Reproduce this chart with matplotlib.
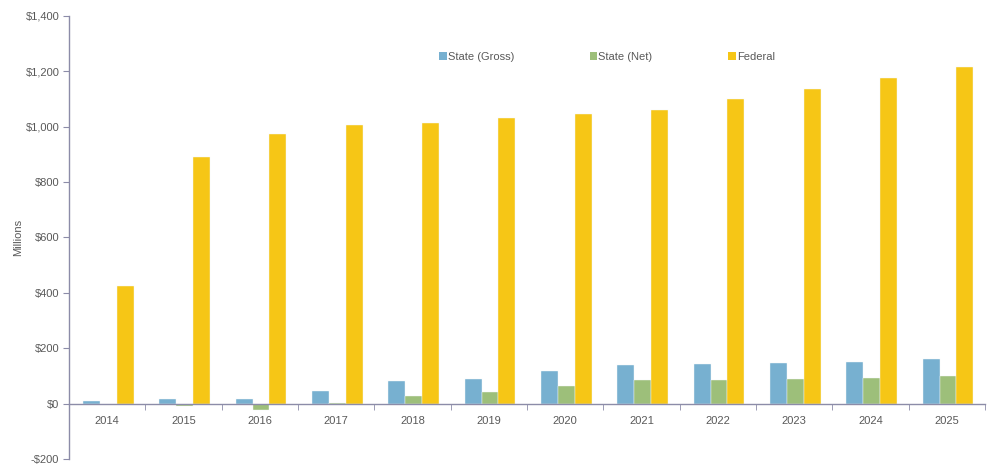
import matplotlib
matplotlib.use("Agg")
import matplotlib.pyplot as plt
import numpy as np
from matplotlib.ticker import FuncFormatter, FixedLocator
from matplotlib.patches import Patch

plt.rcParams['font.family'] = ['Liberation Sans', 'DejaVu Sans']

years = ["2014", "2015", "2016", "2017", "2018", "2019", "2020", "2021", "2022", "2023", "2024", "2025"]
state_gross = [10, 18, 18, 47, 80, 90, 119, 141, 144, 148, 152, 160]
state_net = [0, -7, -22, 3, 29, 43, 63, 85, 85, 88, 93, 98]
federal = [426, 892, 975, 1007, 1014, 1032, 1047, 1061, 1101, 1137, 1177, 1217]
series_names = ["State (Gross)", "State (Net)", "Federal"]
colors = ["#77B0D0", "#9DBF7A", "#F6C616"]

fig = plt.figure(figsize=(9.9, 4.65), dpi=100)
ax = fig.add_axes([0.0697, 0.0129, 0.9253, 0.9527])

x = np.arange(len(years))
w = 0.22
for i, (vals, c) in enumerate(zip([state_gross, state_net, federal], colors)):
    ax.bar(x + (i - 1) * w + 0.015, vals, width=w, color=c, edgecolor='#F4F8FA', linewidth=0.3)

axis_col = "#8C8CA8"
ax.set_xlim(-0.5, len(years) - 0.5)
ax.set_ylim(-200, 1400)
ax.set_yticks(np.arange(-200, 1401, 200))
ax.yaxis.set_major_formatter(FuncFormatter(lambda v, p: f"${v:,.0f}" if v >= 0 else f"-${-v:,.0f}"))

ax.spines['top'].set_visible(False)
ax.spines['right'].set_visible(False)
ax.spines['bottom'].set_position(('data', 0))
ax.spines['bottom'].set_color(axis_col)
ax.spines['left'].set_color(axis_col)
ax.spines['bottom'].set_linewidth(1.0)
ax.spines['left'].set_linewidth(1.0)

ax.set_xticks(x)
ax.set_xticklabels(years)
ax.xaxis.set_minor_locator(FixedLocator(np.arange(-0.5, len(years), 1.0)))
ax.tick_params(axis='x', which='major', length=0, pad=9, labelsize=8, labelcolor='#595959')
ax.tick_params(axis='x', which='minor', length=4, color=axis_col, direction='out')
ax.tick_params(axis='y', length=4, color=axis_col, labelsize=8, labelcolor='#595959', pad=3)

ax.set_ylabel("Millions", fontsize=8, color='#595959', labelpad=1.5)

handles = [Patch(facecolor=c, edgecolor='none') for c in colors]
fig.legend(handles, series_names, loc='center', bbox_to_anchor=(0.613, 0.877), ncol=3,
           frameon=False, fontsize=8, handlelength=0.7, handleheight=0.7, handletextpad=0.1,
           columnspacing=6.8, labelcolor='#595959')

fig.savefig("out.png", dpi=100)
